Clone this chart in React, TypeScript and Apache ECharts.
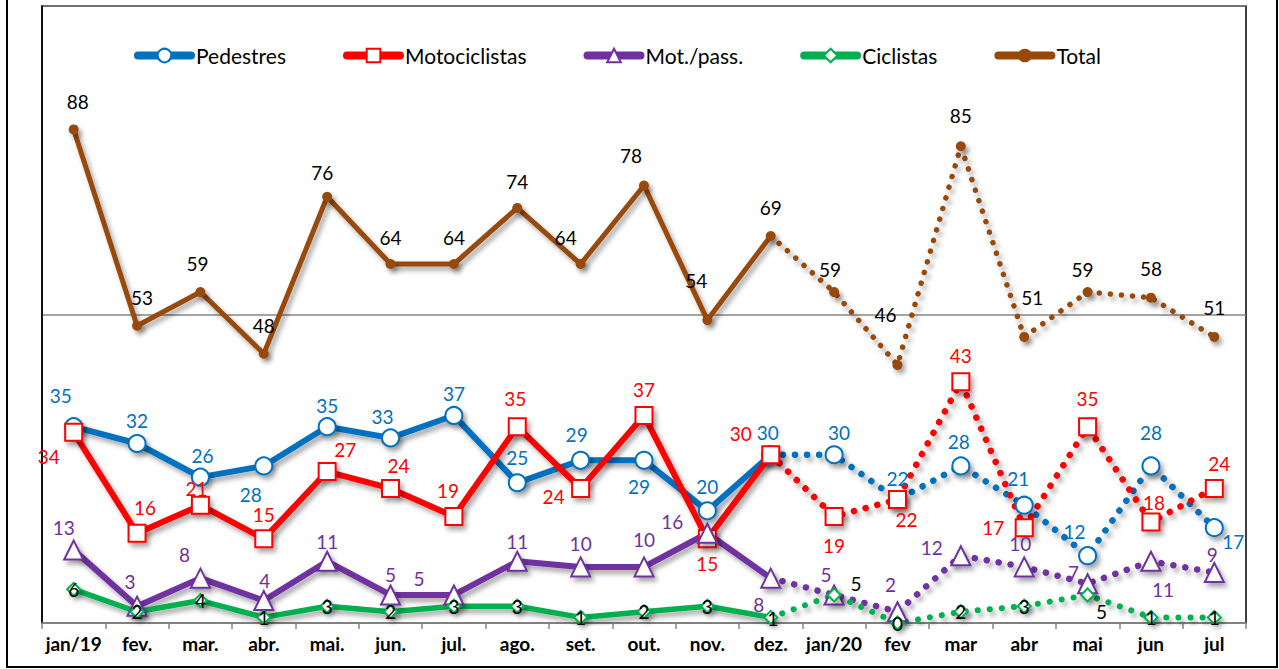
import React, { useEffect, useRef } from "react";
import * as echarts from "echarts";

const categories = ["jan/19", "fev.", "mar.", "abr.", "mai.", "jun.", "jul.", "ago.", "set.", "out.", "nov.", "dez.", "jan/20", "fev", "mar", "abr", "mai", "jun", "jul"];

const pedestres = [35, 32, 26, 28, 35, 33, 37, 25, 29, 29, 20, 30, 30, 22, 28, 21, 12, 28, 17];
const motociclistas = [34, 16, 21, 15, 27, 24, 19, 35, 24, 37, 15, 30, 19, 22, 43, 17, 35, 18, 24];
const motPass = [13, 3, 8, 4, 11, 5, 5, 11, 10, 10, 16, 8, 5, 2, 12, 10, 7, 11, 9];
const ciclistas = [6, 2, 4, 1, 3, 2, 3, 3, 1, 2, 3, 1, 5, 0, 2, 3, 5, 1, 1];
const total = [88, 53, 59, 48, 76, 64, 64, 74, 64, 78, 54, 69, 59, 46, 85, 51, 59, 58, 51];

// index of last solid point (dez.); dotted lines continue from here
const SPLIT = 11;

// label offsets (label centre relative to point)
const pedOffsets = [[-13, -31], [0, -23], [2, -22], [-13, 29], [0, -21], [-8, -21], [0, -22], [0, -25], [-4, -26], [-5, 26], [0, -24], [-3, -22], [5, -22], [0, -21], [-2, -24], [-6, -27], [-13, -24], [0, -33], [19, 14]];
const motoOffsets = [[-25, 24], [8, -26], [-4, -17], [0, -24], [18, -22], [8, -23], [-6, -26], [-2, -28], [-27, 8], [0, -26], [0, 25], [-30, -21], [0, 29], [9, 20], [0, -26], [-31, 0], [0, -28], [3, -20], [5, -25]];
const mpOffsets = [[-10, -23], [-7, -25], [-16, -24], [1, -20], [0, -20], [0, -20], [-35, -16], [0, -20], [0, -23], [0, -27], [-35, -12], [-12, 26], [-8, -20], [-7, -27], [-29, -8], [-4, -23], [-14, -11], [12, 28], [-2, -18]];
const cicOffsets = [[0, 0], [0, 0], [0, 0], [0, 0], [0, 0], [0, 0], [0, 0], [0, 0], [0, 0], [0, 0], [0, 0], [2, 1], [22, -11], [0, 0], [0, 0], [0, 0], [14, 17], [0, 0], [0, 0]];
const totOffsets = [[4, -28], [5, -28], [-3, -29], [0, -28], [-5, -24], [0, -27], [0, -27], [0, -26], [-15, -27], [-13, -30], [-11, -40], [0, -28], [-4, -23], [-12, -50], [0, -31], [8, -39], [-5, -23], [0, -29], [0, -29]];

const FONT = "Lato, 'Open Sans', sans-serif";

type Def = {
  name: string;
  values: number[];
  offsets: number[][];
  color: string;
  labelColor: string;
  symbol: string;
  symbolSize: number;
  width: number;
  fill: string;
  dotGap: number;
};

const defs: Def[] = [
  { name: "Pedestres", values: pedestres, offsets: pedOffsets, color: "#0070C0", labelColor: "#0070C0", symbol: "circle", symbolSize: 17, width: 6, fill: "#ffffff", dotGap: 12 },
  { name: "Motociclistas", values: motociclistas, offsets: motoOffsets, color: "#FF0000", labelColor: "#FF0000", symbol: "rect", symbolSize: 17, width: 6, fill: "#ffffff", dotGap: 12 },
  { name: "Mot./pass.", values: motPass, offsets: mpOffsets, color: "#7030A0", labelColor: "#7030A0", symbol: "triangle", symbolSize: 19, width: 6, fill: "#ffffff", dotGap: 12 },
  { name: "Ciclistas", values: ciclistas, offsets: cicOffsets, color: "#00B050", labelColor: "#000000", symbol: "diamond", symbolSize: 13, width: 5.5, fill: "#ffffff", dotGap: 12 },
  { name: "Total", values: total, offsets: totOffsets, color: "#984807", labelColor: "#000000", symbol: "circle", symbolSize: 10, width: 5, fill: "#984807", dotGap: 11 },
];

const shadow = { shadowColor: "rgba(0,0,0,0.35)", shadowBlur: 5, shadowOffsetX: 3, shadowOffsetY: 4 };

function buildSeries(d: Def) {
  const solid = d.values.map((v, i) =>
    i <= SPLIT ? { value: v, label: { offset: d.offsets[i] } } : null
  );
  const dotted = d.values.map((v, i) => {
    if (i < SPLIT) return null;
    if (i === SPLIT) return { value: v, symbol: "none", label: { show: false } };
    return { value: v, label: { offset: d.offsets[i] } };
  });
  const common = {
    type: "line",
    symbol: d.symbol,
    symbolSize: d.symbolSize,
    showAllSymbol: true,
    connectNulls: false,
    itemStyle: { color: d.fill, borderColor: d.color, borderWidth: d.name === "Total" ? 0 : 2, ...shadow },
    label: { show: true, position: "inside", color: d.labelColor, fontSize: 19, fontFamily: FONT },
    emphasis: { disabled: true },
  };
  return [
    {
      ...common,
      name: d.name,
      data: solid,
      lineStyle: { color: d.color, width: d.width, ...shadow },
    },
    {
      ...common,
      name: d.name + " (2020)",
      data: dotted,
      lineStyle: { color: d.color, width: d.width + 0.5, type: [0.1, d.dotGap], cap: "round", ...shadow },
    },
  ];
}

export default function App() {
  const ref = useRef<HTMLDivElement>(null);
  useEffect(() => {
    if (!ref.current) return;
    const chart = echarts.init(ref.current, null, { renderer: "svg" });
    const series: any[] = [];
    defs.forEach((d) => series.push(...buildSeries(d)));
    chart.setOption({
      animation: false,
      backgroundColor: "#ffffff",
      textStyle: { fontFamily: FONT },
      graphic: [
        {
          type: "rect",
          shape: { x: 7, y: -10, width: 1270, height: 677 },
          style: { fill: "none", stroke: "#000", lineWidth: 2 },
          z: 0,
        },
      ],
      legend: {
        data: defs.map((d) => d.name),
        left: 129,
        top: 40,
        itemWidth: 53,
        itemHeight: 17,
        itemGap: 57,
        lineStyle: { width: 8, cap: "round" },
        textStyle: { fontSize: 21, color: "#000", fontFamily: FONT },
      },
      grid: {
        left: 42,
        right: 33,
        top: 6,
        bottom: 46,
        show: true,
        borderColor: "#000",
        borderWidth: 1.5,
        backgroundColor: "transparent",
      },
      xAxis: {
        type: "category",
        data: categories,
        boundaryGap: true,
        axisLine: { lineStyle: { color: "#868686", width: 1.5 } },
        axisTick: { show: true, length: 6, lineStyle: { color: "#868686", width: 1.5 } },
        axisLabel: { color: "#000", fontWeight: "bold", fontSize: 19, margin: 11, fontFamily: FONT, interval: 0 },
      },
      yAxis: {
        type: "value",
        min: 0,
        max: 110,
        interval: 55,
        axisLabel: { show: false },
        axisTick: { show: false },
        axisLine: { show: true, lineStyle: { color: "#000", width: 1.5 } },
        splitLine: { show: true, lineStyle: { color: "#868686", width: 1.5 } },
      },
      series,
    });
    return () => chart.dispose();
  }, []);
  return (
    <div
      ref={ref}
      style={{ position: "absolute", left: 0, top: 0, width: 1279, height: 669 }}
    />
  );
}
